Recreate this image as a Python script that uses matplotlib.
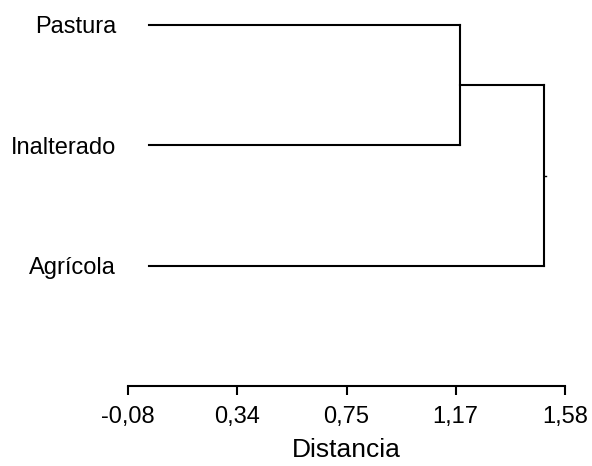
import numpy as np
import matplotlib.pyplot as plt

plt.rcParams['font.family'] = ['Liberation Sans', 'DejaVu Sans']

# leaves (top to bottom) and merge distances
labels = ["Pastura", "Inalterado", "Agrícola"]
leaf_y = [3, 2, 1]
leaf_dist = 0.0
merge1 = 1.18   # Pastura + Inalterado
merge2 = 1.50   # (Pastura, Inalterado) + Agrícola
xticks = [-0.08, 0.335, 0.75, 1.165, 1.58]
xtick_labels = ["-0,08", "0,34", "0,75", "1,17", "1,58"]

fig = plt.figure(figsize=(5.92, 4.66), dpi=100)
ax = fig.add_axes([128/592, 80/466, 437/592, 386/466])

lw = 1.5
c = "black"
# leaf branches
ax.plot([leaf_dist, merge1], [leaf_y[0], leaf_y[0]], color=c, lw=lw)
ax.plot([leaf_dist, merge1], [leaf_y[1], leaf_y[1]], color=c, lw=lw)
ax.plot([leaf_dist, merge2], [leaf_y[2], leaf_y[2]], color=c, lw=lw)
# first join
ax.plot([merge1, merge1], [leaf_y[0], leaf_y[1]], color=c, lw=lw)
mid1 = (leaf_y[0] + leaf_y[1]) / 2
ax.plot([merge1, merge2], [mid1, mid1], color=c, lw=lw)
# root join
ax.plot([merge2, merge2], [mid1, leaf_y[2]], color=c, lw=lw)
mid2 = (mid1 + leaf_y[2]) / 2
ax.plot([merge2, merge2 + 0.008], [mid2, mid2], color=c, lw=1.0)

ax.set_xlim(-0.08, 1.58)
ax.set_ylim(0.004, 3.207)

ax.set_xticks(xticks)
ax.set_xticklabels(xtick_labels, fontsize=17)
ax.set_yticks(leaf_y)
ax.set_yticklabels(labels, fontsize=17)
ax.tick_params(axis='y', length=0, pad=8.5)
ax.tick_params(axis='x', direction='out', length=6.5, width=1.5, pad=8)

for s in ['top', 'right', 'left']:
    ax.spines[s].set_visible(False)
ax.spines['bottom'].set_linewidth(1.5)

ax.set_xlabel("Distancia", fontsize=19, labelpad=7)

plt.savefig("out.png", dpi=100)
